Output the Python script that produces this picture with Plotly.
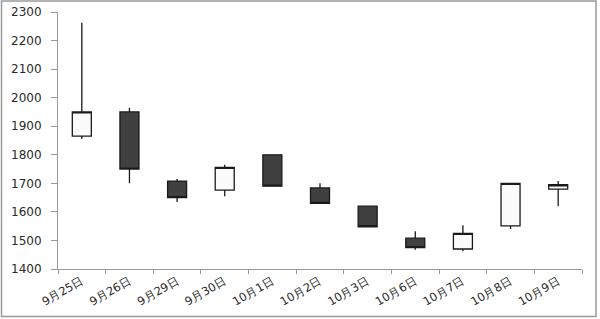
import plotly.graph_objects as go

dates = ["9月25日", "9月26日", "9月29日", "9月30日", "10月1日", "10月2日",
         "10月3日", "10月6日", "10月7日", "10月8日", "10月9日"]
open_ = [1865, 1950, 1708, 1676, 1800, 1684, 1620, 1508, 1470, 1551, 1680]
high = [2262, 1965, 1715, 1765, 1800, 1700, 1620, 1532, 1553, 1700, 1708]
low = [1855, 1700, 1635, 1655, 1690, 1630, 1548, 1467, 1462, 1540, 1620]
close = [1950, 1750, 1650, 1756, 1690, 1630, 1548, 1475, 1525, 1700, 1695]

y_ticks = [1400, 1500, 1600, 1700, 1800, 1900, 2000, 2100, 2200, 2300]

fig = go.Figure(go.Candlestick(
    x=dates, open=open_, high=high, low=low, close=close,
    increasing=dict(fillcolor="#fbfbfb", line=dict(color="#1a1a1a", width=1.3)),
    decreasing=dict(fillcolor="#404040", line=dict(color="#1a1a1a", width=1.3)),
    whiskerwidth=0,
    hoverinfo="skip",
))

W, H = 600, 319
ml, mr, mt, mb = 58, 18, 12, 50
fig.update_layout(
    width=W, height=H,
    margin=dict(l=ml, r=mr, t=mt, b=mb, autoexpand=False),
    paper_bgcolor="white", plot_bgcolor="white",
    showlegend=False,
    boxgap=0.43, boxgroupgap=0.3,
    font=dict(family="DejaVu Sans", color="#333333", size=11),
    xaxis=dict(
        type="category", rangeslider=dict(visible=False), automargin=False,
        range=[-0.5, len(dates) - 0.5],
        tickangle=-30, tickson="boundaries", ticks="outside", ticklen=4,
        tickcolor="#999999", showline=True, linecolor="#999999", linewidth=1,
        showgrid=False,
        tickfont=dict(size=11.5, color="#2a2a2a"),
    ),
    yaxis=dict(
        range=[1400, 2300], tickvals=y_ticks, ticks="outside", ticklen=6,
        automargin=False, ticklabelstandoff=7,
        tickcolor="#999999", showline=True, linecolor="#999999", linewidth=1,
        showgrid=False, zeroline=False, tickfont=dict(size=12, color="#2a2a2a"),
    ),
)

pw = W - ml - mr
ph = H - mt - mb
fig.add_shape(
    type="rect", xref="paper", yref="paper",
    x0=(1.5 - ml) / pw, x1=(W - 4 - ml) / pw,
    y0=-(mb - 2.5) / ph,
    y1=(ph + mt - 1) / ph,
    line=dict(color="#9a9a9a", width=1.5), layer="below",
)

fig.write_html("out.html")
